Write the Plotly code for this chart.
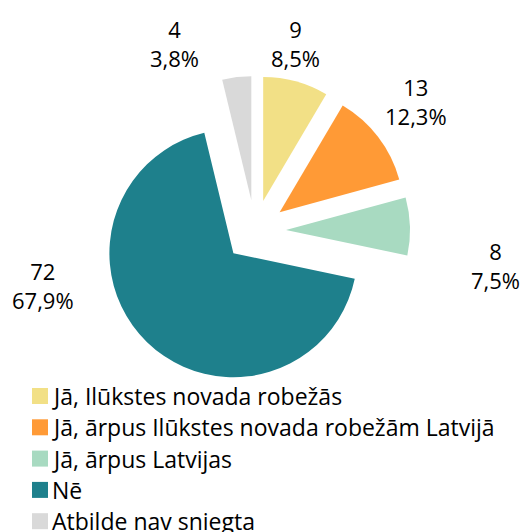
import plotly.graph_objects as go

# Survey answers and counts
categories = [
    "Jā, Ilūkstes novada robežās",
    "Jā, ārpus Ilūkstes novada robežām Latvijā",
    "Jā, ārpus Latvijas",
    "Nē",
    "Atbilde nav sniegta",
]
counts = [9, 13, 8, 72, 4]
colors = ["#F2E086", "#FF9A36", "#A8DAC1", "#1E808C", "#D9D9D9"]

W, H = 526, 532
FONT = "Open Sans"

total = sum(counts)
percents = [c / total * 100 for c in counts]

fig = go.Figure()

# Exploded pie: centre (255, 231) px, radius 124 px, every slice pulled out by 0.25 r
cx, cy, r, pull = 255, 231, 124, 0.25
half = r * (1 + pull)
fig.add_trace(go.Pie(
    labels=categories,
    values=counts,
    sort=False,
    direction="clockwise",
    rotation=0,
    pull=[pull] * len(counts),
    marker=dict(colors=colors, line=dict(width=0)),
    textinfo="none",
    hoverinfo="label+value+percent",
    showlegend=False,
    domain=dict(x=[(cx - half) / W, (cx + half) / W],
                y=[1 - (cy + half) / H, 1 - (cy - half) / H]),
))

# Value / percentage labels around the pie
label_pos = [(295, 44), (416, 101), (495, 265), (43, 285), (174, 44)]
annotations = []
for (lx, ly), c, p in zip(label_pos, counts, percents):
    annotations.append(dict(
        x=lx / W, y=1 - ly / H, xref="paper", yref="paper",
        xanchor="center", yanchor="middle", showarrow=False,
        text=f"{c}<br>{p:.1f}%".replace(".", ","),
        font=dict(family=FONT, size=22, color="#000000"),
    ))

# Legend: coloured squares with category names
shapes = []
row0, row_step = 396, 31.3
for i, (name, col) in enumerate(zip(categories, colors)):
    yc = row0 + i * row_step
    shapes.append(dict(
        type="rect", xref="paper", yref="paper",
        x0=32 / W, x1=48 / W, y0=1 - (yc + 8) / H, y1=1 - (yc - 8) / H,
        fillcolor=col, line=dict(width=0),
    ))
    annotations.append(dict(
        x=50 / W, y=1 - yc / H, xref="paper", yref="paper",
        xanchor="left", yanchor="middle", showarrow=False,
        text=name,
        font=dict(family=FONT, size=23, color="#000000"),
    ))

fig.update_layout(
    width=W, height=H,
    margin=dict(l=0, r=0, t=0, b=0),
    paper_bgcolor="white",
    plot_bgcolor="white",
    annotations=annotations,
    shapes=shapes,
    showlegend=False,
)

fig.write_html("out.html")
